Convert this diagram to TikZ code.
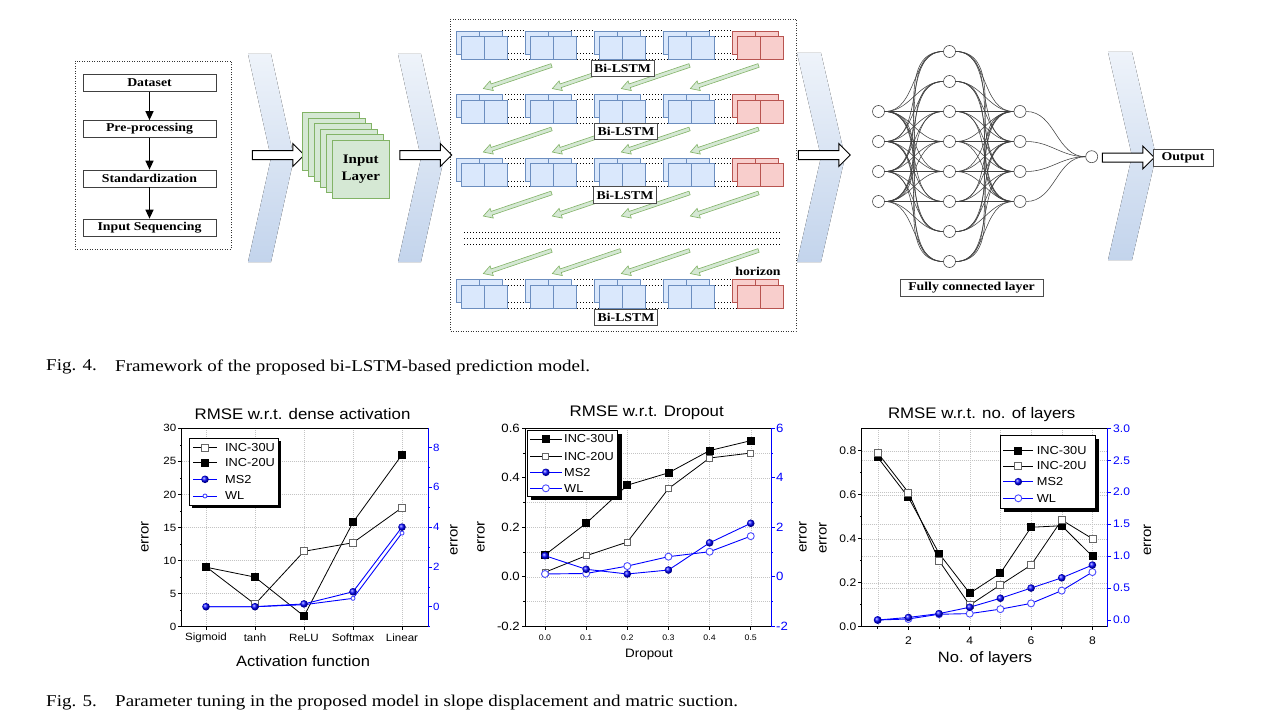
\documentclass[tikz,border=0pt]{standalone}
\usepackage{fontspec}
\setmainfont{Liberation Serif}[FakeStretch=1.15]
\setsansfont{Liberation Sans}[FakeStretch=1.1]
\usetikzlibrary{shapes.arrows,arrows.meta,plotmarks}
\definecolor{chevtop}{HTML}{EEF3FA}
\definecolor{chevbot}{HTML}{C3D4EC}
\definecolor{lbfill}{HTML}{DAE8FC}
\definecolor{lbdraw}{HTML}{6C8EBF}
\definecolor{lrfill}{HTML}{F8CECC}
\definecolor{lrdraw}{HTML}{B85450}
\definecolor{gfill}{HTML}{D5E8D4}
\definecolor{gdraw}{HTML}{82B366}
\definecolor{gridc}{HTML}{C4C4C4}
\tikzset{
 chev/.style={top color=chevtop, bottom color=chevbot, draw=none},
 blockarrow/.style={single arrow, draw=black, line width=1pt, fill=white, minimum height=52pt, inner sep=4pt, single arrow head extend=7pt, single arrow tip angle=90},
 flowbox/.style={draw=black!75, fill=white, line width=0.7pt, minimum width=133pt, minimum height=17pt, inner sep=0pt, font=\fontsize{12}{13}\selectfont\bfseries},
 flowarrow/.style={line width=1.4pt, -{Triangle[length=9pt,width=8pt]}},
 dashedframe/.style={draw=black!80, line width=0.7pt, dash pattern=on 1pt off 1.5pt},
 inlayer/.style={draw=gdraw, fill=gfill, line width=0.6pt, minimum width=57pt, minimum height=58pt, anchor=north west, inner sep=0pt},
 dotline/.style={line width=1pt, dash pattern=on 1pt off 2pt},
 lstmlabel/.style={draw=black!70, fill=white, line width=0.7pt, inner xsep=3pt, inner ysep=1pt, minimum height=16.5pt, font=\fontsize{12}{13}\selectfont\bfseries},
 garrow/.style={single arrow, draw=gdraw, fill=gfill, line width=0.6pt, minimum height=72pt, inner sep=1.6pt, single arrow head extend=3.2pt, single arrow tip angle=60, rotate=198.7},
 neuron/.style={circle, draw=black!70, fill=white, line width=0.6pt, minimum size=12pt, inner sep=0pt},
 nnedge/.style={draw=black!75, line width=0.55pt},
 labelbox/.style={draw=black!70, fill=white, line width=0.7pt, inner sep=0pt, minimum height=17pt, font=\fontsize{12}{14}\selectfont\bfseries},
 capt/.style={anchor=west, inner sep=0pt, font=\fontsize{16.5}{18}\selectfont},
 ctitle/.style={font=\sffamily\fontsize{15.3}{17}\selectfont},
 ctick/.style={font=\sffamily\fontsize{10.5}{12}\selectfont, inner sep=1pt},
 ctickb/.style={font=\sffamily\fontsize{12}{13}\selectfont, inner sep=1pt},
 cticks/.style={font=\sffamily\fontsize{8}{9}\selectfont, inner sep=1pt},
 cticc/.style={font=\sffamily\fontsize{11}{12}\selectfont, inner sep=1pt},
 caxis/.style={font=\sffamily\fontsize{15}{16}\selectfont},
 cerr/.style={font=\sffamily\fontsize{13.7}{15}\selectfont, rotate=90},
 clegend/.style={font=\sffamily\fontsize{11.6}{13}\selectfont, anchor=west, inner sep=0pt},
 cgrid/.style={draw=gridc, line width=0.4pt, dash pattern=on 1pt off 1pt},
 axl/.style={line width=0.7pt},
 sfill/.style={black, line width=0.8pt, mark=square*, mark size=3.5pt, mark options={solid, draw=black, fill=black}},
 sopen/.style={black, line width=0.8pt, mark=square*, mark size=3.5pt, mark options={solid, draw=black!60, fill=white}},
 sball/.style={blue, line width=0.9pt, mark=ball, mark size=3.8pt, mark options={ball color=blue}},
 scirc/.style={blue, line width=0.9pt, mark=*, mark size=3.5pt, mark options={solid, draw=blue!70, fill=white}},
}
\newcommand{\lgdentry}[6]{%
  \draw[#4] (#1,#3) -- (#2,#3);
  \draw[#4] plot coordinates {({(#1+#2)/2},#3)};
  \node[clegend] at (#5,#3) {#6};}
\begin{document}
\begin{tikzpicture}[x=1pt,y=-1pt]
\useasboundingbox (0,0) rectangle (1286,725);
\fill[white] (0,0) rectangle (1286,725);

% ---------- chevrons
\fill[chev] (248,54) -- (271,54) -- (294,158) -- (271,262) -- (248,262) -- (271,158) -- cycle;
\fill[chev] (398,54) -- (421,54) -- (444,158) -- (421,262) -- (398,262) -- (421,158) -- cycle;
\fill[chev] (797,53) -- (821,53) -- (845,157) -- (821,262) -- (797,262) -- (821,157) -- cycle;
\fill[chev] (1108,52) -- (1132,52) -- (1156,156) -- (1132,260) -- (1108,260) -- (1132,156) -- cycle;

% ---------- preprocessing flow
\draw[dashedframe] (75,61) rectangle (231,249);
\node[flowbox] (ds) at (149.5,83) {Dataset};
\node[flowbox] (pp) at (149.5,129) {Pre-processing};
\node[flowbox] (sd) at (149.5,178.5) {Standardization};
\node[flowbox] (is) at (149.5,227.5) {Input Sequencing};
\draw[flowarrow] (ds) -- (pp);
\draw[flowarrow] (pp) -- (sd);
\draw[flowarrow] (sd) -- (is);

% ---------- block arrows
\node[blockarrow] (ba1) at (276,155) {};
\node[blockarrow] (ba2) at (423.5,155) {};
\node[blockarrow] (ba3) at (822,155) {};
\node[blockarrow] (ba4) at (1126,157.5) {};

% ---------- input layer
\foreach \k in {0,...,5} \node[inlayer] (il\k) at ({302+6*\k},{112+5.6*\k}) {};
\node[align=center, font=\fontsize{13}{16.5}\selectfont\bfseries] (iltext) at (il5.center) {Input\\Layer};

% ---------- Bi-LSTM block
\draw[dashedframe] (450,19) rectangle (796,331);
\foreach \ry in {31,94.5,158,279.5}{
  \foreach \g in {0,...,3}{
    \pgfmathsetmacro\xo{456+69*\g}
    \draw[dotline] (\xo+46,\ry) -- (\xo+69,\ry);
    \draw[dotline] (\xo+51.5,\ry+5.5) -- (\xo+74.5,\ry+5.5);
    \draw[dotline] (\xo+46,\ry+23) -- (\xo+69,\ry+23);
    \draw[dotline] (\xo+51.5,\ry+28.5) -- (\xo+74.5,\ry+28.5);
  }
  \foreach \g/\fc/\dc in {0/lbfill/lbdraw,1/lbfill/lbdraw,2/lbfill/lbdraw,3/lbfill/lbdraw,4/lrfill/lrdraw}{
    \pgfmathsetmacro\xo{456+69*\g}
    \filldraw[fill=\fc, draw=\dc, line width=0.6pt] (\xo,\ry) rectangle ++(46,23);
    \draw[\dc, line width=0.6pt] (\xo+23,\ry) -- ++(0,23);
    \filldraw[fill=\fc, draw=\dc, line width=0.6pt] (\xo+5.5,\ry+5.5) rectangle ++(46,23);
    \draw[\dc, line width=0.6pt] (\xo+28.5,\ry+5.5) -- ++(0,23);
  }
}
\foreach \yy in {232,238,244} \draw[dotline] (464,\yy) -- (780,\yy);
\foreach \ys [count=\r] in {65,128.5,192.5,250}{
  \foreach \k in {0,...,3}{
    \node[garrow] (ga\r\k) at ({519+69*\k},{\ys+11.5}) {};
  }
}
\node[lstmlabel] (bl1) at (622.5,68.5) {Bi-LSTM};
\node[lstmlabel] (bl2) at (626,131.5) {Bi-LSTM};
\node[lstmlabel] (bl3) at (625,195) {Bi-LSTM};
\node[lstmlabel] (bl4) at (626,317.5) {Bi-LSTM};
\node[font=\fontsize{12}{13}\selectfont\bfseries, inner sep=0pt] (hz) at (758,271) {horizon};

% ---------- fully connected network
\foreach \i in {1,...,4}{
  \node[neuron] (i\i) at (878.5,{81.5+30*\i}) {};
  \node[neuron] (t\i) at (1020,{81.5+30*\i}) {};
}
\foreach \j in {1,...,8} \node[neuron] (h\j) at (949.5,{21.5+30*\j}) {};
\node[neuron] (o) at (1091.7,156.7) {};
\foreach \i in {1,...,4}{
  \foreach \j in {1,...,8}{
    \draw[nnedge] (i\i.east) to[out=0,in=180] (h\j.west);
    \draw[nnedge] (h\j.east) to[out=0,in=180] (t\i.west);
  }
  \draw[nnedge] (t\i.east) to[out=0,in=180] (o.west);
}
\node[labelbox, minimum width=143pt] (fcl) at (971.5,288) {Fully connected layer};
\node[labelbox, minimum width=60pt] (out) at (1183,158) {Output};

% ---------- captions
\node[capt] (c4a) at (46,367) {Fig. 4.};
\node[capt] (c4b) at (115,367) {Framework of the proposed bi-LSTM-based prediction model.};
\node[capt] (c5a) at (46,703) {Fig. 5.};
\node[capt] (c5b) at (115,703) {Parameter tuning in the proposed model in slope displacement and matric suction.};

% ================= chart 1
\foreach \v in {5,10,...,25} \draw[cgrid] (181.7,{626.7-6.613*\v}) -- (428.3,{626.7-6.613*\v});
\foreach \i in {0,...,4} \draw[cgrid] ({206+49*\i},428.3) -- ({206+49*\i},626.7);
\foreach \v in {0,5,...,30}{
  \draw[axl] (181.7,{626.7-6.613*\v}) -- ++(-3.5,0);
  \node[ctick, anchor=east] (a1l\v) at (177.5,{626.7-6.613*\v}) {\v};
}
\foreach \v in {2.5,7.5,...,27.5} \draw[line width=0.5pt] (181.7,{626.7-6.613*\v}) -- ++(-2,0);
\foreach \v in {0,2,...,8}{
  \draw[axl, blue] (428.3,{606.7-19.9*\v}) -- ++(3.5,0);
  \node[ctick, blue, anchor=west] (a1r\v) at (432,{606.7-19.9*\v}) {\v};
}
\foreach \v in {-1,1,3,5,7} \draw[blue, line width=0.5pt] (428.3,{606.7-19.9*\v}) -- ++(2,0);
\foreach \n [count=\i from 0] in {Sigmoid,tanh,ReLU,Softmax,Linear}{
  \draw[axl] ({206+49*\i},626.7) -- ++(0,3.5);
  \node[ctick] (a1x\i) at ({206+49*\i},638) {\n};
}
\draw[axl] (428.3,428.3) -- (181.7,428.3) -- (181.7,626.7) -- (428.3,626.7);
\draw[axl, blue] (428.3,428.3) -- (428.3,626.7);
\node[ctitle] (t1) at (302.5,414) {RMSE w.r.t. dense activation};
\node[caxis] (x1) at (303,661) {Activation function};
\node[cerr] (e1l) at (145,537) {error};
\node[cerr] (e1r) at (454,540) {error};
\begin{scope}[shift={(206,626.7)}, x=49pt, y=6.613pt]
  \draw[sopen] plot coordinates {(0,9.07) (1,3.4) (2,11.4) (3,12.7) (4,18)};
  \draw[sfill] plot coordinates {(0,9) (1,7.5) (2,1.6) (3,15.8) (4,26)};
\end{scope}
\begin{scope}[shift={(206,606.7)}, x=49pt, y=19.9pt]
  \draw[scirc, mark size=2pt] plot coordinates {(0,0) (1,0) (2,0.1) (3,0.42) (4,3.7)};
  \draw[sball] plot coordinates {(0,0) (1,0) (2,0.14) (3,0.75) (4,4.0)};
\end{scope}
\fill[black] (192.3,441.3) rectangle (281.3,508);
\draw[fill=white, line width=0.6pt] (189.3,438.3) rectangle (278.3,505);
\lgdentry{193}{217}{447.7}{sopen}{225}{INC-30U}
\lgdentry{193}{217}{462.7}{sfill}{225}{INC-20U}
\lgdentry{193}{217}{479.3}{sball}{225}{MS2}
\lgdentry{193}{217}{496}{scirc, mark size=2pt}{225}{WL}

% ================= chart 2
\foreach \v in {-0.1,0,0.1,0.2,0.3,0.4,0.5} \draw[cgrid] (525,{576.7-247.3*\v}) -- (771,{576.7-247.3*\v});
\foreach \i in {0,...,5} \draw[cgrid] ({545+41.15*\i},428.3) -- ({545+41.15*\i},626.7);
\foreach \v/\t/\r [count=\c] in {0.6/0.6/6,0.4/0.4/4,0.2/0.2/2,0/0.0/0,-0.2/-0.2/-2}{
  \draw[axl] (525,{576.7-247.3*\v}) -- ++(-3.5,0);
  \node[ctickb, anchor=east] (a2l\c) at (521,{576.7-247.3*\v}) {\t};
  \draw[axl, blue] (771,{576.7-247.3*\v}) -- ++(3.5,0);
  \node[ctickb, blue, anchor=west] (a2r\c) at (775,{576.7-247.3*\v}) {\r};
}
\foreach \v in {-0.1,0.1,0.3,0.5}{
  \draw[line width=0.5pt] (525,{576.7-247.3*\v}) -- ++(-2,0);
  \draw[blue, line width=0.5pt] (771,{576.7-247.3*\v}) -- ++(2,0);
}
\foreach \t [count=\i from 0] in {0.0,0.1,0.2,0.3,0.4,0.5}{
  \draw[axl] ({545+41.15*\i},626.7) -- ++(0,3.5);
  \node[cticks] (a2x\i) at ({545+41.15*\i},637.3) {\t};
}
\draw[axl] (771,428.3) -- (525,428.3) -- (525,626.7) -- (771,626.7);
\draw[axl, blue] (771,428.3) -- (771,626.7);
\node[ctitle] (t2) at (646.7,412.7) {RMSE w.r.t. Dropout};
\node[caxis, font=\sffamily\fontsize{12.2}{14}\selectfont] (x2) at (649,655) {Dropout};
\node[cerr] (e2l) at (481,537) {error};
\node[cerr] (e2r) at (803,537) {error};
\begin{scope}[shift={(545,576.7)}, x=411.5pt, y=247.3pt]
  \draw[sopen, mark size=3pt] plot coordinates {(0,0.018) (0.1,0.085) (0.2,0.14) (0.3,0.356) (0.4,0.48) (0.5,0.50)};
  \draw[sfill] plot coordinates {(0,0.088) (0.1,0.216) (0.2,0.37) (0.3,0.42) (0.4,0.51) (0.5,0.55)};
  \draw[scirc] plot coordinates {(0,0.011) (0.1,0.013) (0.2,0.043) (0.3,0.081) (0.4,0.101) (0.5,0.164)};
  \draw[sball] plot coordinates {(0,0.085) (0.1,0.03) (0.2,0.011) (0.3,0.027) (0.4,0.137) (0.5,0.216)};
\end{scope}
\fill[black] (531.3,434) rectangle (621.7,500);
\draw[fill=white, line width=0.6pt] (527.3,430) rectangle (617.7,496);
\lgdentry{530}{561.7}{439}{sfill}{564}{INC-30U}
\lgdentry{530}{561.7}{456.7}{sopen, mark size=3pt}{564}{INC-20U}
\lgdentry{530}{561.7}{472.3}{sball}{564}{MS2}
\lgdentry{530}{561.7}{488.3}{scirc}{564}{WL}

% ================= chart 3
\foreach \v in {0.2,0.4,0.6,0.8} \draw[cgrid] (861.7,{626.7-220*\v}) -- (1107.3,{626.7-220*\v});
\foreach \v in {0.5,1,1.5,2,2.5} \draw[cgrid] (861.7,{620-63.9*\v}) -- (1107.3,{620-63.9*\v});
\foreach \i in {1,...,8} \draw[cgrid] ({847.03+30.67*\i},428.3) -- ({847.03+30.67*\i},626.7);
\foreach \v/\t [count=\c] in {0/0.0,0.2/0.2,0.4/0.4,0.6/0.6,0.8/0.8}{
  \draw[axl] (861.7,{626.7-220*\v}) -- ++(-3.5,0);
  \node[cticc, anchor=east] (a3l\c) at (857.5,{626.7-220*\v}) {\t};
}
\foreach \v in {0.1,0.3,0.5,0.7} \draw[line width=0.5pt] (861.7,{626.7-220*\v}) -- ++(-2,0);
\foreach \v/\t [count=\c] in {0/0.0,0.5/0.5,1/1.0,1.5/1.5,2/2.0,2.5/2.5,3/3.0}{
  \draw[axl, blue] (1107.3,{620-63.9*\v}) -- ++(3.5,0);
  \node[cticc, blue, anchor=west] (a3r\c) at (1112,{620-63.9*\v}) {\t};
}
\foreach \i in {2,4,6,8} \draw[axl] ({847.03+30.67*\i},626.7) -- ++(0,3.5);
\foreach \i in {1,3,5,7} \draw[line width=0.5pt] ({847.03+30.67*\i},626.7) -- ++(0,2);
\foreach \i in {2,4,6,8} \node[cticc] (a3x\i) at ({847.03+30.67*\i},640.7) {\i};
\draw[axl] (1107.3,428.3) -- (861.7,428.3) -- (861.7,626.7) -- (1107.3,626.7);
\draw[axl, blue] (1107.3,428.3) -- (1107.3,626.7);
\node[ctitle] (t3) at (981.7,415) {RMSE w.r.t. no. of layers};
\node[caxis] (x3) at (985,658.3) {No. of layers};
\node[cerr] (e3l) at (823,538) {error};
\node[cerr] (e3r) at (1147.5,540) {error};
\begin{scope}[shift={(847.03,626.7)}, x=30.67pt, y=220pt]
  \draw[sfill] plot coordinates {(1,0.77) (2,0.588) (3,0.333) (4,0.152) (5,0.243) (6,0.452) (7,0.459) (8,0.32)};
  \draw[sopen] plot coordinates {(1,0.79) (2,0.61) (3,0.30) (4,0.098) (5,0.19) (6,0.28) (7,0.485) (8,0.40)};
\end{scope}
\begin{scope}[shift={(847.03,620)}, x=30.67pt, y=63.9pt]
  \draw[scirc] plot coordinates {(1,0) (2,0.016) (3,0.09) (4,0.1) (5,0.17) (6,0.26) (7,0.46) (8,0.75)};
  \draw[sball] plot coordinates {(1,0) (2,0.04) (3,0.1) (4,0.2) (5,0.34) (6,0.5) (7,0.66) (8,0.86)};
\end{scope}
\fill[black] (1004,439) rectangle (1099,512.3);
\draw[fill=white, line width=0.6pt] (1000,435) rectangle (1095,508.3);
\lgdentry{1003.3}{1033.3}{450.7}{sfill}{1036.7}{INC-30U}
\lgdentry{1003.3}{1033.3}{466}{sopen}{1036.7}{INC-20U}
\lgdentry{1003.3}{1033.3}{481.7}{sball}{1036.7}{MS2}
\lgdentry{1003.3}{1033.3}{498.3}{scirc}{1036.7}{WL}
\end{tikzpicture}
\end{document}
